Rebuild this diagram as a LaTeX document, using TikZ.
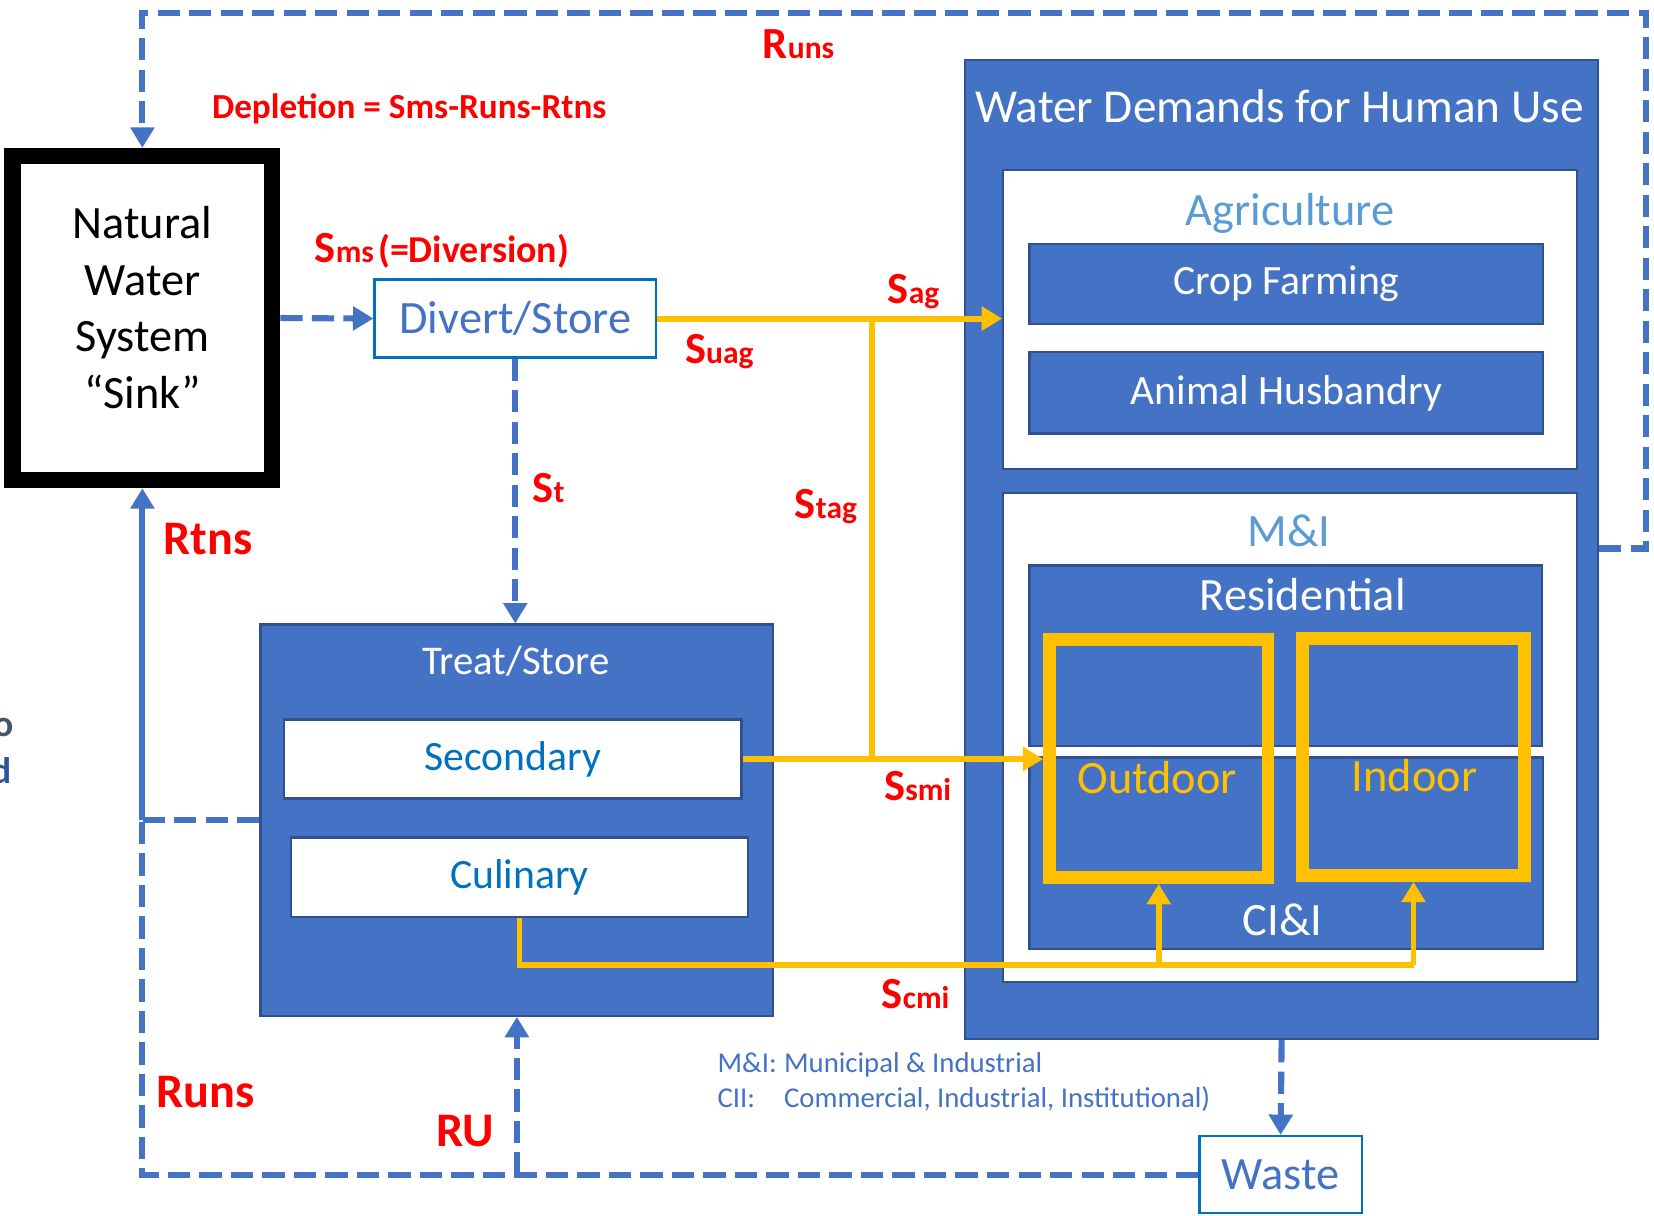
\documentclass[tikz,border=0pt]{standalone}
\usepackage{fontspec}
\setmainfont{Carlito}
\usepackage{xcolor}
\usepackage{tikz}
\usetikzlibrary{arrows.meta,positioning,calc}
\definecolor{bfill}{HTML}{4472C4}
\definecolor{bedge}{HTML}{2F528F}
\definecolor{dblue}{HTML}{0070C0}
\definecolor{lblue}{HTML}{5B9BD5}
\definecolor{gold}{HTML}{FFC000}
\definecolor{slate}{HTML}{44546A}
\definecolor{dkblue}{HTML}{2F5597}
\newcommand{\fsz}[1]{\fontsize{#1}{#1}\selectfont}
\newcommand{\flw}[2]{{\fsz{24}#1}{\fsz{17}#2}}

\begin{document}
\begin{tikzpicture}[x=0.02cm, y=-0.02cm,
  bx/.style={draw=bedge, fill=bfill, line width=1.2pt, inner sep=0pt, text=white, font=\fsz{22.5}},
  wb/.style={draw=bedge, fill=white, line width=1.2pt, inner sep=0pt},
  ob/.style={draw=dblue, fill=white, line width=1.2pt, inner sep=0pt, text=bfill, font=\fsz{25}},
  frm/.style={draw=gold, line width=6.8pt, inner sep=0pt},
  ttl/.style={text=white, font=\fsz{25}, inner sep=0pt},
  fl/.style={text=red, font=\bfseries, inner sep=0pt},
  big/.style={fl, font=\bfseries\fsz{26}},
  dl/.style={draw=bfill, line width=3.3pt, dash pattern=on 12pt off 5pt},
  yl/.style={draw=gold, line width=3.2pt},
  arw/.style={-{Triangle[length=11pt,width=12.5pt]}}]
\path[use as bounding box, fill=white] (0,0) rectangle (1568,1152);

\node[draw=black, line width=9pt, fill=white, minimum width=4.92cm, minimum height=6.14cm] (nat) at (135,301.5) {};
\node[align=center, inner sep=0pt, font=\fontsize{25}{30.6}\selectfont] (natt) at (135,291.5) {Natural\\Water\\System\\“Sink”};
\node[ob, minimum width=5.34cm, minimum height=1.48cm] (div) at (488.5,302) {Divert/Store};

\node[bx, minimum width=9.72cm, minimum height=7.42cm] (trt) at (490,777.5) {};
\node[ttl, font=\fsz{22}] (trtt) at (489,627) {Treat/Store};
\node[wb, minimum width=8.68cm, minimum height=1.5cm, text=dblue, font=\fsz{22.5}] (sec) at (486,719.5) {Secondary};
\node[wb, minimum width=8.66cm, minimum height=1.5cm, text=dblue, font=\fsz{22.5}] (cul) at (492.5,831.5) {Culinary};

\node[bx, minimum width=12cm, minimum height=18.56cm] (wd) at (1215,521) {};
\node[ttl, font=\fsz{25.5}] (wdt) at (1213,101) {Water Demands for Human Use};
\node[wb, minimum width=10.88cm, minimum height=5.68cm] (ag) at (1223,303) {};
\node[ttl, text=lblue] (agt) at (1223,202) {Agriculture};
\node[bx, minimum width=9.74cm, minimum height=1.52cm] (crop) at (1219.5,269) {Crop Farming};
\node[bx, minimum width=9.74cm, minimum height=1.54cm] (anim) at (1219.5,372.5) {Animal Husbandry};
\node[wb, minimum width=10.88cm, minimum height=9.28cm] (mi) at (1223,699) {};
\node[ttl, text=lblue] (mit) at (1222,503) {M\&I};
\node[bx, minimum width=9.72cm, minimum height=3.42cm] (res) at (1219,621.5) {};
\node[ttl] (rest) at (1235,564) {Residential};
\node[bx, minimum width=9.74cm, minimum height=3.64cm] (cii) at (1219.5,809) {};
\node[ttl] (ciit) at (1216,872) {CI\&I};
\node[frm, minimum width=4.14cm, minimum height=4.52cm] (out) at (1098.5,719) {};
\node[ttl, text=gold] (outt) at (1097,737) {Outdoor};
\node[frm, minimum width=4.2cm, minimum height=4.5cm] (in) at (1340,717.5) {};
\node[ttl, text=gold] (int) at (1341,735) {Indoor};

\node[ob, minimum width=3.08cm, minimum height=1.46cm, font=\fsz{25}] (waste) at (1214,1113.5) {Waste};
\node[anchor=west, inner sep=0pt, text=bfill, font=\fontsize{15.5}{18.7}\selectfont] (note) at (680,1027) {\begin{tabular}{@{}l@{\hspace{4pt}}l@{}}M\&I: & Municipal \& Industrial\\CII: & Commercial, Industrial, Institutional)\end{tabular}};
\node[anchor=east, inner sep=0pt, text=slate, font=\bfseries\fsz{20}] (frg1) at (13,690) {o};
\node[anchor=east, inner sep=0pt, text=dkblue, font=\bfseries\fsz{20}] (frg2) at (11,731) {d};

\coordinate (jn) at (827,302);
\coordinate (rj) at (135,777.5);
\coordinate (bc) at (135,1113.5);
\coordinate (cb) at (1340,915);
\coordinate (lp) at (1560,520);

\draw[dl, arw] (nat.east) -- (div.west);
\draw[dl, arw] (div.south) -- (div.south |- trt.north);
\draw[dl] (trt.west) -- (rj);
\draw[draw=bfill, line width=3.3pt, arw] (rj) -- (nat.south);
\draw[dl] (waste.west) -- (bc) -- (rj);
\draw[dl, arw] (trt.south |- bc) -- (trt.south);
\draw[dl, arw] (wd.south) -- (waste.north);
\draw[dl, arw] (lp -| wd.east) -- (lp) |- (135,12) -- (nat.north);

\draw[yl, arw] (div.east) -- (div.east -| ag.west);
\draw[yl] (jn) -- (jn |- sec.east);
\draw[yl, arw] (sec.east) -- (sec.east -| out.west);
\draw[yl] (cul.south) |- (cb);
\draw[yl, arw] (cb) -- (in.south);
\draw[yl, arw] (out.south |- cb) -- (out.south);

\node[fl] (lruns) at (757,42) {\flw{R}{uns}};
\node[fl, font=\bfseries\fsz{19}] (ldep) at (388,103) {Depletion = Sms-Runs-Rtns};
\node[fl] (lsms) at (419,238) {\flw{S}{ms} {\fsz{20.5}(=Diversion)}};
\node[fl] (lst) at (520,463) {\flw{S}{t}};
\node[fl] (lsuag) at (682,333) {\flw{S}{uag}};
\node[fl] (lsag) at (866,276) {\flw{S}{ag}};
\node[fl] (lstag) at (783,480) {\flw{S}{tag}};
\node[fl] (lssmi) at (870,745) {\flw{S}{smi}};
\node[fl] (lscmi) at (868,942) {\flw{S}{cmi}};
\node[big] (lrtns) at (197,511) {Rtns};
\node[big] (lruns2) at (195,1035) {Runs};
\node[big] (lru) at (441,1072) {RU};
\end{tikzpicture}
\end{document}
